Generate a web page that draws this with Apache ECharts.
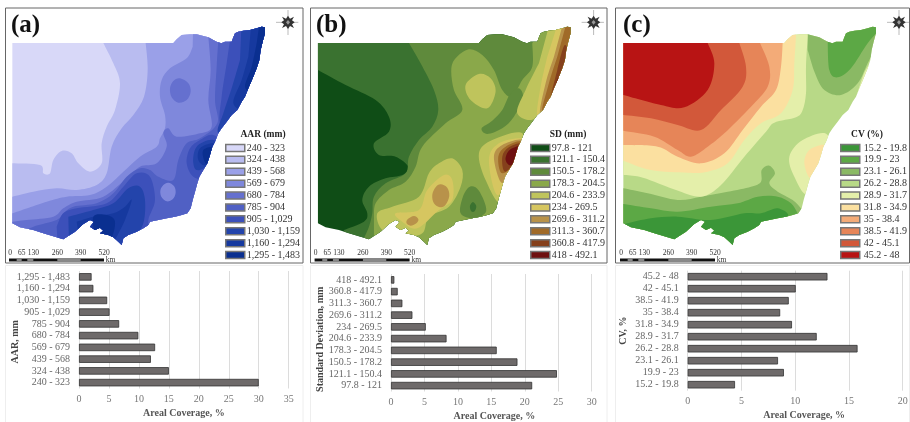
<!DOCTYPE html>
<html><head><meta charset="utf-8">
<style>html,body{margin:0;background:#fff}#c{width:910px;height:422px}</style>
<script src="https://cdn.jsdelivr.net/npm/echarts@6/dist/echarts.min.js"></script>
</head><body><div id="c"></div>
<script>
const aarLabels=['240 - 323','324 - 438','439 - 568','569 - 679','680 - 784','785 - 904','905 - 1,029','1,030 - 1,159','1,160 - 1,294','1,295 - 1,483'];
const sdLabels=['97.8 - 121','121.1 - 150.4','150.5 - 178.2','178.3 - 204.5','204.6 - 233.9','234 - 269.5','269.6 - 311.2','311.3 - 360.7','360.8 - 417.9','418 - 492.1'];
const cvLabels=['15.2 - 19.8','19.9 - 23','23.1 - 26.1','26.2 - 28.8','28.9 - 31.7','31.8 - 34.9','35 - 38.4','38.5 - 41.9','42 - 45.1','45.2 - 48'];
const aarValues=[30,15,12,12.7,9.9,6.7,5.1,4.7,2.4,2.1];
const sdValues=[21.1,24.8,18.9,15.8,8.3,5.2,3.2,1.7,1.0,0.5];
const cvValues=[4.4,8.95,8.4,15.8,12,9.7,8.6,9.4,10.05,13];
const aarColors=['#d8d8f8','#b9bcf0','#9aa0e8','#7f88dc','#6570cf','#5060c4','#3c50ba','#2344ab','#16399f','#0a2f90'];
const sdColors=['#0f4d16','#3a7230','#5f8a3c','#8aa84a','#bfc45c','#d6c660','#b8924a','#a06a28','#85401c','#6e1010'];
const cvColors=['#3b9638','#5ca845','#8ab964','#b8d987','#e4efaa','#fbe0a0','#f3ab78','#e68558','#d2583a','#b81414'];
const stateOutline=[[37,129],[520,129],[530,118],[545,105],[570,103],[590,103],[610,108],[625,112],[640,120],[650,125],[664,130],[675,125],[695,125],[700,112],[705,100],[715,95],[730,92],[750,90],[770,85],[785,80],[795,82],[795,100],[788,125],[782,150],[778,180],[770,205],[758,235],[745,265],[735,290],[725,305],[712,330],[695,345],[680,365],[665,385],[655,400],[645,425],[637,440],[630,465],[622,490],[610,510],[598,530],[592,550],[585,575],[578,600],[572,625],[562,640],[545,645],[525,650],[500,655],[475,660],[450,665],[445,675],[430,685],[410,695],[385,705],[370,715],[365,735],[355,725],[340,712],[325,705],[300,700],[310,692],[300,683],[285,690],[270,680],[282,665],[270,660],[250,672],[238,683],[225,695],[205,708],[190,718],[165,710],[130,700],[100,690],[60,682],[37,670]];
const aarLayers=[
 [0,[[[-60,60],[850,60],[850,860],[-60,860]]]],
 [1,[[[310,60],[310,129],[340,190],[360,250],[345,330],[320,380],[305,430],[305,490],[270,515],[235,490],[215,460],[185,453],[160,480],[150,520],[130,520],[120,495],[37,490],[-60,490],[-60,860],[860,860],[860,60]]]],
 [2,[[[437,60],[437,129],[443,210],[432,290],[400,345],[365,385],[335,440],[320,520],[290,555],[230,570],[170,565],[100,575],[37,590],[-60,590],[-60,860],[860,860],[860,60]]]],
 [3,[[[580,60],[578,140],[560,175],[510,205],[485,240],[480,290],[495,345],[495,385],[480,415],[470,440],[420,470],[370,515],[320,560],[270,585],[200,590],[140,605],[37,640],[-60,640],[-60,860],[860,860],[860,60]]]],
 [4,[[[625,60],[625,110],[632,210],[625,300],[635,380],[600,400],[530,410],[505,385],[490,400],[500,440],[470,490],[420,500],[380,535],[310,590],[230,605],[190,625],[160,650],[80,660],[37,665],[-60,665],[-60,860],[860,860],[860,60]],
     [[540,235],[565,250],[572,275],[560,300],[535,308],[515,292],[510,265],[520,243]]]],
 [5,[[[655,60],[655,120],[650,200],[645,300],[652,370],[600,415],[560,430],[535,480],[520,540],[475,530],[450,510],[420,505],[380,530],[340,580],[290,610],[220,620],[190,640],[170,660],[100,680],[60,700],[60,860],[860,860],[860,60]]]],
 [3,[[[505,548],[522,558],[527,578],[518,598],[500,604],[485,592],[481,572],[490,555]]]],
 [6,[[[690,60],[690,120],[680,190],[665,290],[660,370],[700,400],[860,300],[860,60]],
     [[640,405],[600,420],[570,445],[560,490],[580,530],[620,530],[680,450]],
     [[190,640],[230,625],[320,610],[370,560],[410,520],[450,530],[465,600],[445,660],[450,700],[450,860],[180,860],[170,680]]]],
 [7,[[[725,60],[720,180],[695,265],[670,340],[655,400],[720,400],[860,250],[860,60]],
     [[640,420],[590,440],[580,490],[600,510],[670,460]],
     [[205,650],[280,630],[340,610],[385,565],[420,560],[435,600],[430,670],[400,720],[400,860],[210,860]]]],
 [8,[[[755,60],[745,170],[725,240],[700,310],[740,340],[860,200],[860,60]],
     [[640,430],[600,445],[595,480],[620,495],[670,450]],
     [[230,665],[280,650],[340,640],[375,620],[395,600],[375,660],[345,720],[345,860],[260,860]]]],
 [9,[[[780,60],[770,130],[755,200],[735,260],[760,280],[860,150],[860,60]],
     [[640,440],[610,450],[612,480],[625,490],[660,450]],
     [[280,650],[320,645],[345,665],[330,720],[290,710]]]]
];
const sdLayers=[
 [0,[[[-60,60],[850,60],[850,860],[-60,860]]]],
 [1,[[[-60,190],[37,210],[120,255],[210,300],[250,350],[250,395],[205,430],[220,465],[270,470],[308,500],[290,525],[240,535],[190,560],[170,600],[185,640],[175,665],[115,690],[100,860],[860,860],[860,60],[-60,60]]]],
 [2,[[[310,60],[310,129],[345,190],[385,270],[398,330],[380,380],[340,420],[310,470],[300,520],[240,550],[205,590],[200,640],[190,680],[170,725],[170,860],[860,860],[860,60]]]],
 [3,[[[490,148],[530,165],[565,210],[590,270],[620,290],[650,240],[680,200],[680,130],[720,60],[860,60],[860,300],[720,380],[640,450],[590,620],[560,690],[450,700],[380,860],[205,860],[205,660],[210,610],[250,570],[300,545],[330,500],[350,440],[420,370],[470,330],[445,270],[437,210],[450,175]]]],
 [2,[[[528,385],[560,362],[590,330],[612,285],[640,265],[652,295],[625,350],[590,385],[545,402]],
     [[493,560],[520,572],[542,632],[505,655],[465,640],[472,590]]]],
 [1,[[[502,606],[512,618],[507,634],[497,634],[493,618]]]],
 [4,[[[520,222],[555,235],[570,275],[545,325],[495,300],[480,255]],
     [[735,60],[700,190],[660,270],[635,340],[690,355],[740,260],[790,100]],
     [[440,475],[470,510],[465,560],[430,620],[370,650],[350,700],[290,710],[230,690],[215,640],[260,620],[340,590],[370,520],[400,490]],
     [[650,400],[560,420],[520,460],[540,540],[590,610],[640,490]]]],
 [5,[[[760,60],[725,170],[705,260],[695,350],[730,330],[800,130]],
     [[415,525],[440,540],[440,600],[400,630],[335,685],[290,665],[270,640],[340,630],[365,570]],
     [[650,415],[580,430],[550,480],[575,585],[620,520],[660,440]]]],
 [6,[[[405,553],[425,563],[431,588],[420,614],[403,622],[385,610],[380,585],[390,562]],
     [[325,648],[338,657],[334,668],[315,677],[303,670],[306,658]],
     [[775,60],[745,170],[720,250],[705,345],[770,260],[810,120]],
     [[650,420],[590,435],[565,470],[585,545],[610,530],[650,470]]]],
 [7,[[[785,60],[755,170],[730,250],[712,335],[790,220],[810,100]],
     [[650,425],[600,440],[578,470],[590,520],[640,480]]]],
 [8,[[[778,135],[755,210],[735,305],[790,200]],
     [[650,430],[610,442],[590,470],[600,515],[650,460]]]],
 [9,[[[757,235],[743,295],[770,265]],
     [[650,435],[612,450],[600,480],[620,495],[655,445]]]]
];
const cvLayers=[
 [3,[[[-60,60],[850,60],[850,860],[-60,860]]]],
 [2,[[[590,60],[590,150],[612,220],[640,270],[690,285],[740,250],[770,190],[810,110],[850,60]],
     [[-60,565],[37,565],[110,580],[200,600],[270,590],[350,575],[420,560],[450,545],[452,510],[475,497],[492,520],[475,550],[500,575],[545,600],[575,630],[620,860],[-60,860]]]],
 [1,[[[650,60],[650,110],[655,210],[680,232],[720,205],[770,130],[810,85],[850,60]],
     [[-60,610],[37,612],[120,625],[200,635],[300,620],[380,610],[440,590],[500,590],[540,610],[560,640],[620,860],[-60,860]]]],
 [0,[[[-60,700],[50,670],[120,655],[200,650],[300,660],[400,640],[450,640],[500,625],[530,650],[450,680],[450,860],[-60,860]]]],
 [4,[[[590,60],[590,110],[585,200],[585,280],[575,330],[555,352],[490,368],[465,395],[400,470],[330,555],[270,590],[195,570],[130,545],[85,530],[37,525],[-60,525],[-60,60]],
     [[775,195],[750,245],[730,325],[760,300],[800,220]],
     [[650,405],[575,420],[535,470],[550,530],[590,585],[640,520]]]],
 [5,[[[555,60],[555,110],[550,190],[545,270],[510,340],[450,370],[400,420],[350,490],[290,515],[230,518],[120,510],[37,482],[-60,470],[-60,60]],
     [[640,435],[595,450],[580,490],[600,535],[630,470]]]],
 [6,[[[515,60],[515,129],[510,200],[495,270],[450,320],[395,390],[340,460],[270,490],[200,470],[140,440],[37,435],[-60,430],[-60,60]]]],
 [7,[[[447,60],[447,129],[475,200],[470,260],[420,320],[340,400],[290,440],[240,470],[200,450],[130,410],[37,392],[-60,385],[-60,60]]]],
 [8,[[[385,60],[385,129],[405,200],[395,260],[330,330],[270,390],[200,375],[120,355],[37,345],[-60,335],[-60,60]]]],
 [9,[[[290,60],[290,129],[310,190],[290,270],[220,322],[150,315],[37,285],[-60,275],[-60,60]]]]
];
const scaleTicks=['0','65','130','260','390','520'];
const scaleTickX=[30,65,100,172,242,312];

// Catmull-Rom through contour points; edges touching a point outside the map stay straight.
const isOuter=q=>q[0]<=-60||q[0]>=850||q[1]<=60||q[1]>=860;
function contourPath(rawPts,px){
  const n=rawPts.length; const P=rawPts.map(px);
  let d='M'+P[0][0]+' '+P[0][1];
  for(let i=0;i<n;i++){
    const a=(i-1+n)%n,b=i,c=(i+1)%n,e=(i+2)%n;
    if(isOuter(rawPts[b])||isOuter(rawPts[c])){d+='L'+P[c][0]+' '+P[c][1];continue;}
    const pa=isOuter(rawPts[a])?P[b]:P[a], pe=isOuter(rawPts[e])?P[c]:P[e];
    const c1=[P[b][0]+(P[c][0]-pa[0])/6,P[b][1]+(P[c][1]-pa[1])/6];
    const c2=[P[c][0]-(pe[0]-P[b][0])/6,P[c][1]-(pe[1]-P[b][1])/6];
    d+='C'+c1[0]+' '+c1[1]+' '+c2[0]+' '+c2[1]+' '+P[c][0]+' '+P[c][1];
  }
  return d+'Z';
}
const chart=echarts.init(document.getElementById('c'));
const serif='"Liberation Serif","DejaVu Serif",serif';
const panels=[
 {key:'(a)',title:'AAR (mm)',labels:aarLabels,colors:aarColors,layers:aarLayers,values:aarValues,name:'AAR, mm',max:35,interval:5,
  mapLeft:0,tx:11,titleX:263,legendX:225,textPad:-3,bar:{left:79,right:910-288.7,top:271,height:117.5},yGap:59,yPad:[0,24,0,0],xPad:[0,0,0,0],frame:[5.5,303]},
 {key:'(b)',title:'SD (mm)',labels:sdLabels,colors:sdColors,layers:sdLayers,values:sdValues,name:'Standard Deviation, mm',max:30,interval:5,
  mapLeft:305.6,tx:316,titleX:568,legendX:530,textPad:-3,bar:{left:391,right:910-591.7,top:274,height:117.5},yGap:66,yPad:[0,13,0,0],xPad:[0,0,0,6],frame:[310.5,607]},
 {key:'(c)',title:'CV (%)',labels:cvLabels,colors:cvColors,layers:cvLayers,values:cvValues,name:'CV, %',max:20,interval:5,
  mapLeft:611,tx:623,titleX:867,legendX:840,textPad:-1,bar:{left:687.7,right:910-902.7,top:270.7,height:120},yGap:59,yPad:[0,0,0,0],xPad:[0,0,0,18],frame:[615.5,909.5]}
];
const grid=[],xAxis=[],yAxis=[],series=[],legend=[],title=[],graphic=[];
panels.forEach((p,pi)=>{
  const mapIdx=pi*2, barIdx=pi*2+1;
  grid.push({left:p.mapLeft,top:0,width:300,height:800/3,outerBoundsMode:'none'});
  xAxis.push({gridIndex:mapIdx,type:'value',min:0,max:900,show:false});
  yAxis.push({gridIndex:mapIdx,type:'value',min:0,max:800,inverse:true,show:false});
  grid.push({left:p.bar.left,right:p.bar.right,top:p.bar.top,height:p.bar.height,outerBoundsMode:'none'});
  xAxis.push({gridIndex:barIdx,type:'value',min:0,max:p.max,interval:p.interval,
    axisLine:{show:false},axisTick:{show:false},
    axisLabel:{fontFamily:serif,fontSize:10,color:'#777',margin:6},
    splitLine:{lineStyle:{color:'#dcdcdc',width:1}},
    name:'Areal Coverage, %',nameLocation:'middle',nameGap:20,nameMoveOverlap:false,
    nameTextStyle:{fontFamily:serif,fontSize:10,fontWeight:'bold',color:'#555',padding:p.xPad}});
  yAxis.push({gridIndex:barIdx,type:'category',data:p.labels,
    axisLine:{show:false},axisTick:{show:false},
    axisLabel:{fontFamily:serif,fontSize:10,color:'#666',margin:9,interval:0},
    name:p.name,nameLocation:'middle',nameGap:p.yGap,nameMoveOverlap:false,
    nameTextStyle:{fontFamily:serif,fontSize:10,fontWeight:'bold',color:'#444',padding:p.yPad}});
  series.push({type:'bar',xAxisIndex:barIdx,yAxisIndex:barIdx,name:p.name,data:p.values,barWidth:7.5,
    itemStyle:{color:'#6e6a6a',borderColor:'#333',borderWidth:0.8},silent:true});
  p.layers.forEach(layer=>{
    const band=layer[0],shapes=layer[1];
    series.push({type:'custom',name:p.labels[band],coordinateSystem:'cartesian2d',xAxisIndex:mapIdx,yAxisIndex:mapIdx,
      silent:true,itemStyle:{color:p.colors[band]},data:shapes.map((s,i)=>[i,0]),
      renderItem:(params,api)=>{
        const toPx=pts=>pts.map(q=>api.coord(q));
        const d=contourPath(shapes[params.dataIndex],q=>api.coord(q));
        return {type:'path',shape:{pathData:d,layout:'none'},
          style:{fill:p.colors[band],stroke:null},
          clipPath:{type:'polygon',shape:{points:toPx(stateOutline)}}};
      }});
  });
  // compass rose and scale bar share the map's coordinates
  series.push({type:'custom',name:'decor'+pi,coordinateSystem:'cartesian2d',xAxisIndex:mapIdx,yAxisIndex:mapIdx,silent:true,data:[[0,0]],
    renderItem:(params,api)=>{
      const c=q=>api.coord(q), line=(a,b,w,col)=>{const A=c(a),B=c(b);return {type:'line',shape:{x1:A[0],y1:A[1],x2:B[0],y2:B[1]},style:{stroke:col||'#777',lineWidth:w||0.5}}};
      const kids=[
        line([864,30],[864,105]),line([828,67],[895,67]),
        {type:'polygon',shape:{points:[[864,47],[870,56],[882,50],[876,61],[884,67],[876,73],[882,84],[870,78],[864,87],[858,78],[846,84],[852,73],[844,67],[852,61],[846,50],[858,56]].map(c)},style:{fill:'#333'}},
        {type:'polygon',shape:{points:[[864,60],[870,67],[864,74],[858,67]].map(c)},style:{fill:'#999'}},
        line([27,780],[312,780],3,'#111'),line([50,780],[65,780],1,'#fff'),line([82,780],[100,780],1,'#fff'),line([172,780],[242,780],1,'#fff')
      ];
      scaleTicks.forEach((t,i)=>{const P=c([scaleTickX[i],758]);kids.push({type:'text',x:P[0],y:P[1],style:{text:t,fontFamily:serif,fontSize:7.5,fill:'#333',align:'center',verticalAlign:'middle'}})});
      const K=c([332,779]);kids.push({type:'text',x:K[0],y:K[1],style:{text:'km',fontFamily:serif,fontSize:7.5,fill:'#333',align:'center',verticalAlign:'middle'}});
      return {type:'group',children:kids};
    }});
  legend.push({orient:'vertical',left:p.legendX,top:142,padding:0,itemGap:0,itemWidth:19,itemHeight:7,icon:'rect',
    selectedMode:false,data:p.labels,
    itemStyle:{borderColor:'#777',borderWidth:1.5},
    textStyle:{fontFamily:serif,fontSize:10,color:'#333',lineHeight:11.9,padding:[0,0,0,p.textPad]}});
  title.push({text:p.key,left:p.tx,top:13,padding:0,textStyle:{fontFamily:serif,fontSize:25,fontWeight:'bold',color:'#111'}});
  title.push({text:p.title,left:p.titleX,textAlign:'center',top:130,padding:0,textStyle:{fontFamily:serif,fontSize:9.5,fontWeight:'bold',color:'#222'}});
  graphic.push({type:'rect',silent:true,z:-1,shape:{x:p.frame[0],y:8,width:p.frame[1]-p.frame[0],height:255},style:{fill:'none',stroke:'#666',lineWidth:1}});
  graphic.push({type:'rect',silent:true,z:-1,shape:{x:p.frame[0],y:265.5,width:p.frame[1]-p.frame[0],height:170},style:{fill:'none',stroke:'#eeeeee',lineWidth:1}});
});
chart.setOption({animation:false,backgroundColor:'#fff',tooltip:{show:false},grid,xAxis,yAxis,series,legend,title,graphic});
</script></body></html>
